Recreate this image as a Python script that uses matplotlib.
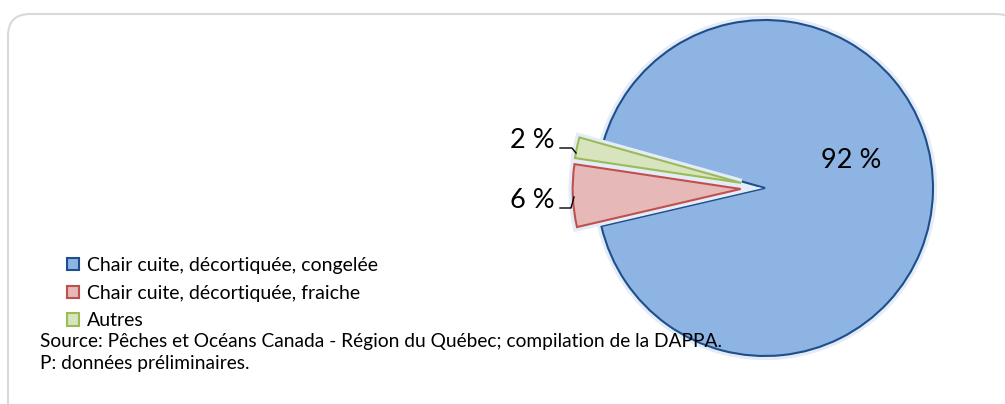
import matplotlib.pyplot as plt
import matplotlib.patheffects as pe
from matplotlib.patches import FancyBboxPatch

# Data
categories = ['Chair cuite, décortiquée, congelée',
              'Chair cuite, décortiquée, fraiche',
              'Autres']
shares = [92, 6, 2]
pct_labels = ['92 %', '6 %', '2 %']
source_lines = ['Source: Pêches et Océans Canada - Région du Québec; compilation de la DAPPA.',
                'P: données préliminaires.']

fills = ['#8eb4e3', '#e6b9b8', '#d7e4bd']
edges = ['#1f4e8c', '#c0504d', '#9bbb59']

plt.rcParams['font.family'] = ['Lato', 'DejaVu Sans']

W, H = 1005, 404
fig = plt.figure(figsize=(W / 100, H / 100), dpi=100)
ax = fig.add_axes([0, 0, 1, 1])
ax.axis('off')

# chart frame
frame = FancyBboxPatch((8, -30), 1010, H - 12 + 30 - 2,
                       boxstyle='round,pad=0,rounding_size=22',
                       facecolor='white', edgecolor='#d9d9d9', linewidth=1.5)
ax.add_patch(frame)

# pie (explode is in data units here, so scale by radius)
cx, cy, r = 765, H - 188, 168
wedges, _ = ax.pie(shares, colors=fills, startangle=164.3, counterclock=False,
                   explode=[0, 0.145 * r, 0.145 * r], center=(cx, cy), radius=r,
                   wedgeprops=dict(linewidth=1.5))
for w, ec in zip(wedges, edges):
    w.set_edgecolor(ec)
    w.set_path_effects([pe.Stroke(linewidth=6, foreground='#e4ecf7'), pe.Normal()])

ax.set_xlim(0, W)
ax.set_ylim(0, H)
ax.set_aspect('equal')

# percentage labels
ax.text(851, H - 160, pct_labels[0], fontsize=19.5, ha='center', va='center')
ax.text(555, H - 201, pct_labels[1], fontsize=19.5, ha='right', va='center')
ax.text(555, H - 140, pct_labels[2], fontsize=19.5, ha='right', va='center')
# leader lines
ax.plot([560, 571, 574], [H - 208, H - 208, H - 197], color='black', lw=1)
ax.plot([560, 572, 576], [H - 148, H - 148, H - 153], color='black', lw=1)

# legend
leg = ax.legend(wedges, categories, loc='upper left', bbox_to_anchor=(67 / W, 1 - 257 / H),
                frameon=False, fontsize=14, handlelength=0.6, handleheight=0.6,
                handletextpad=0.45, labelspacing=0.55, borderpad=0, borderaxespad=0)
for h, ec in zip(leg.legend_handles, edges):
    h.set_edgecolor(ec)
    h.set_path_effects([])

ax.text(40, H - 342, source_lines[0], fontsize=13.8, va='center')
ax.text(40, H - 364, source_lines[1], fontsize=13.8, va='center')

fig.savefig('out.png', dpi=100)
